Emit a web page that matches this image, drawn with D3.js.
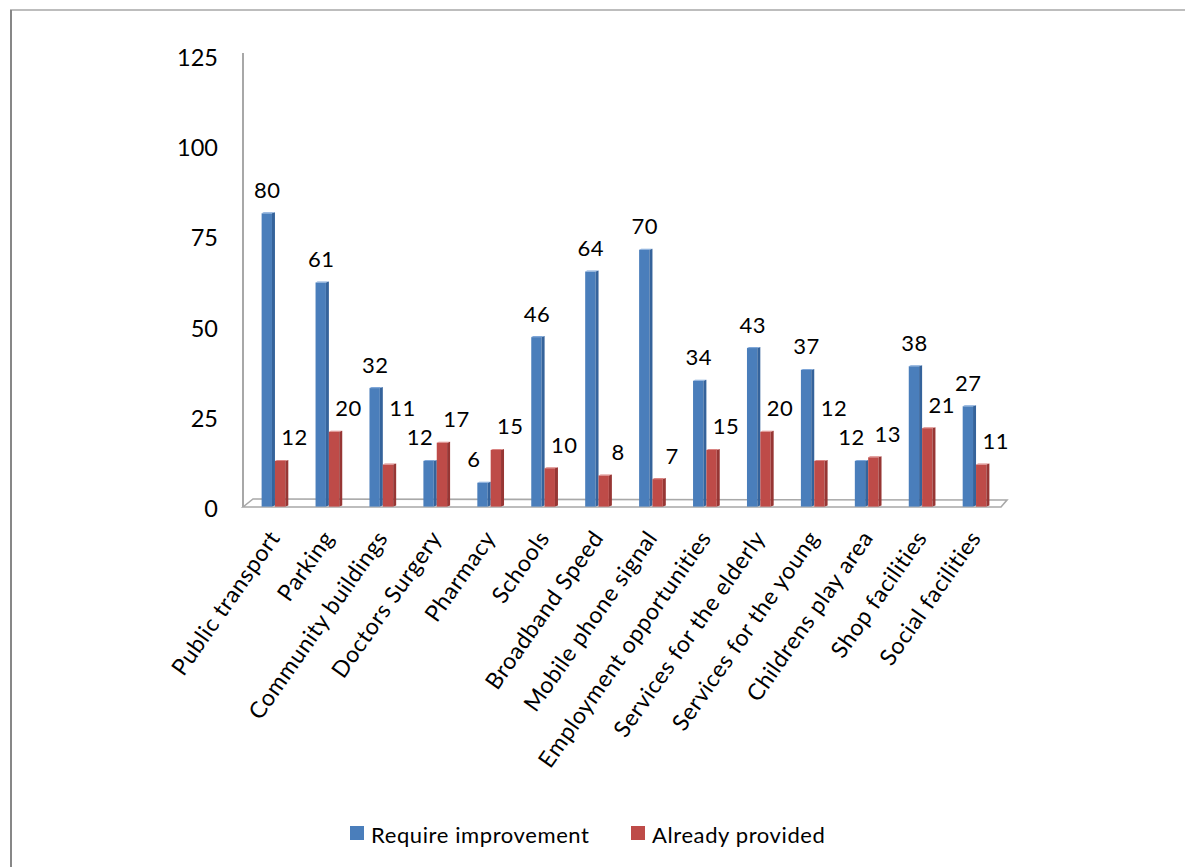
<!DOCTYPE html>
<html>
<head>
<meta charset="utf-8">
<script src="https://cdn.jsdelivr.net/npm/d3@7"></script>
<style>
  body { margin: 0; background: #fff; }
  svg { display: block; font-family: Lato, "Open Sans", sans-serif; }
</style>
</head>
<body>
<svg id="chart" width="1186" height="867"></svg>
<script>
// data
const categories = ["Public transport", "Parking", "Community buildings", "Doctors Surgery",
  "Pharmacy", "Schools", "Broadband Speed", "Mobile phone signal", "Employment opportunities",
  "Services for the elderly", "Services for the young", "Childrens play area",
  "Shop facilities", "Social facilities"]
const requireImprovement = [80, 61, 32, 12, 6, 46, 64, 70, 34, 43, 37, 12, 38, 27]
const alreadyProvided = [12, 20, 11, 17, 15, 10, 8, 7, 15, 20, 12, 13, 21, 11]
const seriesNames = ["Require improvement", "Already provided"]
const yTicks = [0, 25, 50, 75, 100, 125]

const colors = {
  "Require improvement": { front: "#4a7ebb", side: "#35639b", top: "#7ea6d8" },
  "Already provided": { front: "#be4b48", side: "#973634", top: "#da8482" }
}

const svg = d3.select("#chart")

// frame of the picture
svg.append("line").attr("x1", 10).attr("y1", 10).attr("x2", 1185).attr("y2", 10)
  .attr("stroke", "#bdbdbd").attr("stroke-width", 2)
svg.append("line").attr("x1", 11).attr("y1", 10).attr("x2", 11).attr("y2", 867)
  .attr("stroke", "#878787").attr("stroke-width", 2)

// x: one band per category, inner band per series
const x = d3.scaleBand().domain(categories).range([248, 1003]).paddingInner(0.505).paddingOuter(0.2525)
const x1 = d3.scaleBand().domain(seriesNames).range([0, x.bandwidth()])
// bars stand on the front of the floor, ticks sit on the back wall
const y = d3.scaleLinear().domain([0, 125]).range([504.6, 49.5])
const yWall = d3.scaleLinear().domain([0, 125]).range([508, 57])

// floor
svg.append("path")
  .attr("d", "M243,507 L253,499 L1007,500 L1001,507 Z")
  .attr("fill", "#fff").attr("stroke", "#a8a8a8").attr("stroke-width", 1.6)

// y axis line and labels
svg.append("line").attr("x1", 243).attr("x2", 243)
  .attr("y1", yWall(125) - 4).attr("y2", 507)
  .attr("stroke", "#a8a8a8").attr("stroke-width", 2)

svg.append("g").selectAll("text").data(yTicks).join("text")
  .attr("x", 218).attr("y", d => yWall(d))
  .attr("text-anchor", "end").attr("dominant-baseline", "central")
  .attr("font-size", 23.5).attr("fill", "#000")
  .text(d => d)

// bars
const depth = 3
const rows = []
categories.forEach((c, i) => {
  rows.push({ cat: c, series: seriesNames[0], value: requireImprovement[i] })
  rows.push({ cat: c, series: seriesNames[1], value: alreadyProvided[i] })
})

const bars = svg.append("g").selectAll("g").data(rows).join("g")
bars.each(function (d) {
  const g = d3.select(this)
  const x0 = x(d.cat) + x1(d.series)
  const w = x1.bandwidth()
  const top = y(d.value)
  const bottom = y(0) + 2
  const col = colors[d.series]
  g.append("rect").attr("x", x0).attr("y", top).attr("width", w - depth).attr("height", bottom - top)
    .attr("fill", col.front)
  g.append("path")
    .attr("d", `M${x0 + w - depth},${top} L${x0 + w},${top - 1} L${x0 + w},${bottom - 1} L${x0 + w - depth},${bottom} Z`)
    .attr("fill", col.side)
  g.append("path")
    .attr("d", `M${x0},${top} L${x0 + 2},${top - 1} L${x0 + w},${top - 1} L${x0 + w - depth},${top} Z`)
    .attr("fill", col.top)
})

// value labels -- blue one moves left when its bar is lower than the red one
const labels = svg.append("g").selectAll("text").data(rows).join("text")
  .attr("x", d => {
    const cx = x(d.cat) + x1(d.series) + x1.bandwidth() / 2
    if (d.series === seriesNames[1]) return cx + 13
    const i = categories.indexOf(d.cat)
    return cx + (requireImprovement[i] < alreadyProvided[i] ? -10 : -1)
  })
  .attr("y", d => y(d.value) - 24)
  .attr("text-anchor", "middle").attr("dominant-baseline", "central")
  .attr("font-size", 22).attr("letter-spacing", 0.5).attr("fill", "#000")
  .text(d => d.value)

// red label bumping into the next group's blue label gets lifted above it
const nodes = labels.nodes()
for (let i = 0; i < categories.length - 1; i++) {
  const red = nodes[i * 2 + 1], nextBlue = nodes[i * 2 + 2]
  const a = red.getBBox(), b = nextBlue.getBBox()
  const hit = a.x < b.x + b.width && b.x < a.x + a.width && a.y < b.y + b.height && b.y < a.y + a.height
  if (hit) {
    const cy = Math.min(+red.getAttribute("y"), +nextBlue.getAttribute("y") - a.height - 2)
    red.setAttribute("y", cy)
  }
}

// category labels
svg.append("g").selectAll("text").data(categories).join("text")
  .attr("transform", d => `translate(${x(d) + x.bandwidth() / 2 + 6},538) rotate(-55)`)
  .attr("text-anchor", "end")
  .attr("font-size", 23).attr("letter-spacing", 0.6).attr("fill", "#000")
  .text(d => d)

// legend
const legend = svg.append("g")
const legendItems = [{ name: seriesNames[0], x: 350 }, { name: seriesNames[1], x: 631 }]
legendItems.forEach(it => {
  legend.append("rect").attr("x", it.x).attr("y", 826).attr("width", 14).attr("height", 14)
    .attr("fill", colors[it.name].front)
  legend.append("text").attr("x", it.x + 21).attr("y", 834)
    .attr("dominant-baseline", "central").attr("font-size", 22).attr("letter-spacing", 0.6)
    .attr("fill", "#000").text(it.name)
})
</script>
</body>
</html>
